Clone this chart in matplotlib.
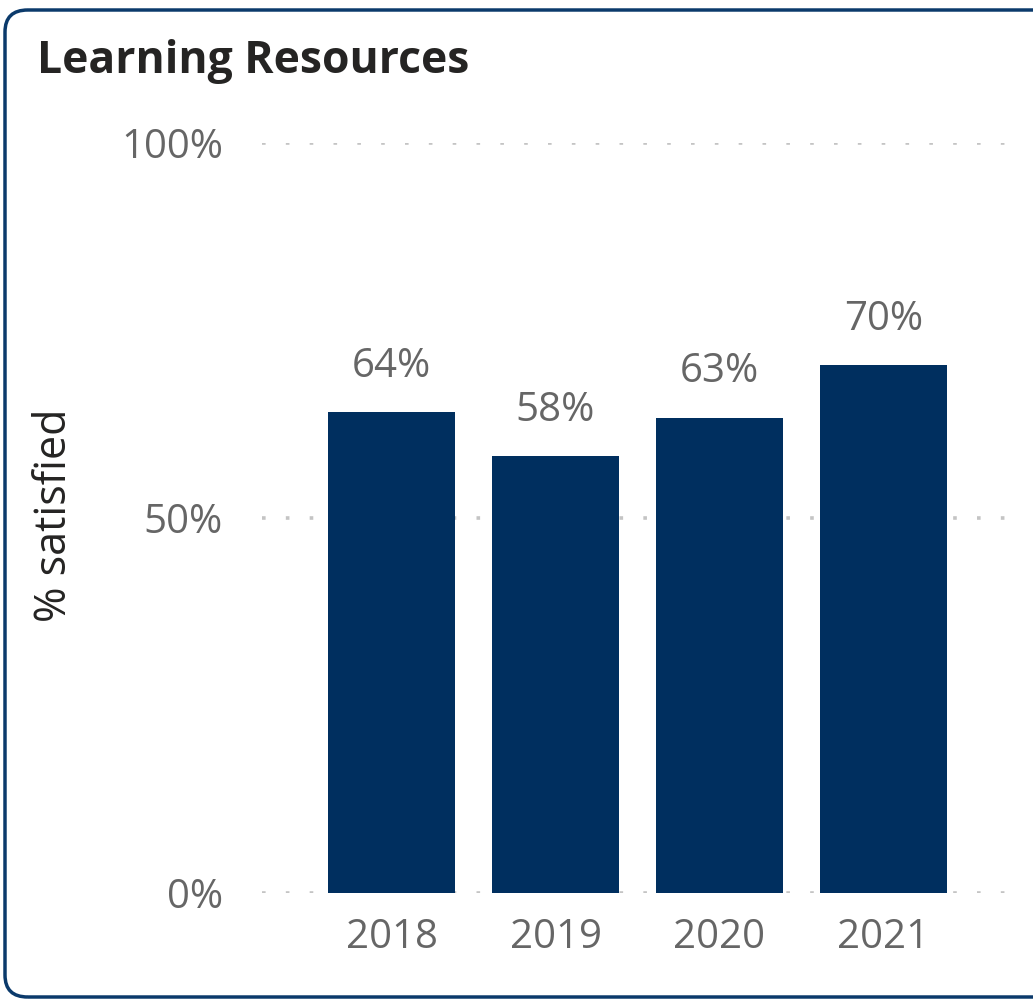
import matplotlib.pyplot as plt
from matplotlib.patches import FancyBboxPatch

years = ['2018', '2019', '2020', '2021']
satisfied = [64.1, 58.3, 63.4, 70.4]
yticks = [0, 50, 100]
ytick_labels = ['0%', '50%', '100%']

plt.rcParams['font.family'] = ['Open Sans', 'DejaVu Sans']

W, H = 1033, 999
fig = plt.figure(figsize=(W / 100, H / 100), dpi=100)
ax = fig.add_axes([262 / W, 1 - 893 / H, (1013 - 262) / W, (893 - 143) / H])

x = range(len(years))
bars = ax.bar(x, satisfied, width=0.775, color='#002f5f', zorder=3)
for xi, v in zip(x, satisfied):
    ax.annotate(f'{v:.0f}%', (xi, v), xytext=(0, 18), textcoords='offset points',
                ha='center', va='bottom', fontsize=29, color='#666666')

ax.set_xlim(-0.79, 3.79)
ax.set_ylim(0, 100)
ax.set_xticks(list(x))
ax.set_xticklabels(years, fontsize=29, color='#666666')
ax.set_yticks(yticks)
ax.set_yticklabels(ytick_labels, fontsize=29, color='#666666')
ax.tick_params(length=0)
ax.tick_params(axis='y', pad=28)
ax.tick_params(axis='x', pad=18)
ax.yaxis.grid(True, color='#c4c4c4', linewidth=2.6, linestyle=(0, (1, 5.6)),
              dash_capstyle='butt', zorder=0)
for s in ax.spines.values():
    s.set_visible(False)

fig.text(55 / W, 1 - 515 / H, '% satisfied', rotation=90, ha='center', va='center',
         fontsize=31, color='#252423')
fig.text(37 / W, 1 - 73 / H, 'Learning Resources', ha='left', va='baseline',
         fontsize=32, fontweight='bold', color='#252423')

border = FancyBboxPatch((5 / W, 2 / H), (W + 20) / W, (H - 12) / H,
                        boxstyle='round,pad=0,rounding_size=0.022',
                        transform=fig.transFigure, fill=False,
                        edgecolor='#0b3a6b', linewidth=2.5, clip_on=False)
fig.patches.append(border)

fig.savefig('out.png', dpi=100)
